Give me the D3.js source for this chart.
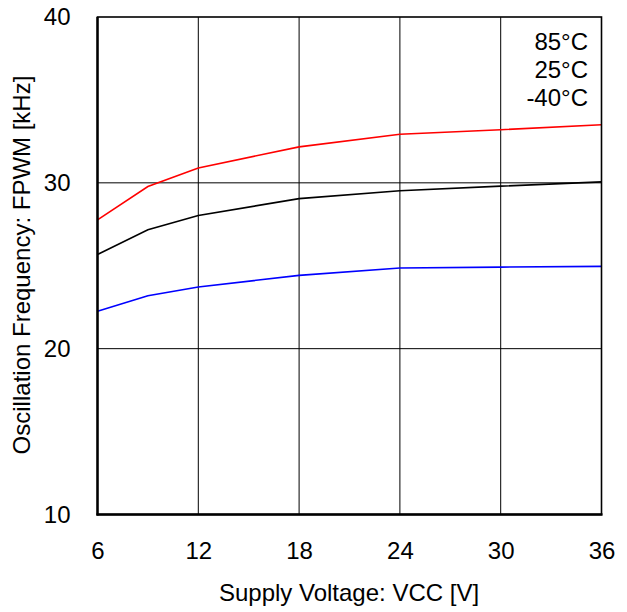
<!DOCTYPE html>
<html><head><meta charset="utf-8">
<script src="https://cdn.jsdelivr.net/npm/d3@7"></script>
<style>body{margin:0;background:#fff}text{font-family:"Liberation Sans",Arial,sans-serif;fill:#000}</style>
</head><body><svg id="c" width="627" height="612"></svg>
<script>
const voltages = [6, 9, 12, 18, 24, 30, 36];
const freq85 = [27.77, 29.78, 30.9, 32.17, 32.93, 33.2, 33.5];
const freq25 = [25.68, 27.17, 28.03, 29.05, 29.52, 29.8, 30.06];
const freqM40 = [22.25, 23.19, 23.72, 24.42, 24.86, 24.92, 24.96];
const xTicks = [6, 12, 18, 24, 30, 36];
const yTicks = [10, 20, 30, 40];
const seriesNames = ["85°C", "25°C", "-40°C"];
const seriesColors = ["#ff0000", "#000000", "#0000ff"];

const FS = 24;
const svg = d3.select("#c");
const L = 97.5, R = 601.5, T = 17, B = 514.5;
const x = d3.scaleLinear().domain([6, 36]).range([L, R]);
const y = d3.scaleLinear().domain([10, 40]).range([B, T]);

// grid
svg.append("g").selectAll("line").data(xTicks.slice(1, -1)).join("line")
  .attr("x1", d => x(d)).attr("x2", d => x(d)).attr("y1", T).attr("y2", B)
  .attr("stroke", "#000").attr("stroke-width", 1);
svg.append("g").selectAll("line").data(yTicks.slice(1, -1)).join("line")
  .attr("x1", L).attr("x2", R).attr("y1", d => y(d)).attr("y2", d => y(d))
  .attr("stroke", "#000").attr("stroke-width", 1);

// series
const line = d3.line().x((d, i) => x(voltages[i])).y(d => y(d));
[freq85, freq25, freqM40].forEach((s, k) => {
  svg.append("path").datum(s).attr("d", line).attr("fill", "none")
    .attr("stroke", seriesColors[k]).attr("stroke-width", 1.6);
});

// frame
svg.append("rect").attr("x", L).attr("y", T).attr("width", R - L).attr("height", B - T)
  .attr("fill", "none").attr("stroke", "#000").attr("stroke-width", 1.6);
svg.append("line").attr("x1", L).attr("x2", L).attr("y1", T).attr("y2", B + 1).attr("stroke", "#000").attr("stroke-width", 2.4);
svg.append("line").attr("x1", L - 1).attr("x2", R + 1).attr("y1", B).attr("y2", B).attr("stroke", "#000").attr("stroke-width", 2.4);

// axes via d3
const xAxis = svg.append("g").attr("transform", `translate(0,${B})`)
  .call(d3.axisBottom(x).tickValues(xTicks).tickSize(0).tickPadding(27.5));
const yAxis = svg.append("g").attr("transform", `translate(${L},0)`)
  .call(d3.axisLeft(y).tickValues(yTicks).tickSize(0).tickPadding(27));
[xAxis, yAxis].forEach(g => {
  g.select(".domain").remove();
  g.selectAll("text").attr("font-size", FS).attr("font-family", '"Liberation Sans",Arial,sans-serif').attr("fill", "#000");
});

// axis titles
svg.append("text").attr("x", 349).attr("y", 601).attr("text-anchor", "middle")
  .attr("font-size", FS).text("Supply Voltage: VCC [V]");
svg.append("text").attr("transform", "translate(30,265) rotate(-90)").attr("text-anchor", "middle")
  .attr("font-size", FS).text("Oscillation Frequency: FPWM [kHz]");

// legend
svg.append("g").selectAll("text").data(seriesNames).join("text")
  .attr("x", 588).attr("y", (d, i) => 49.5 + i * 28.3).attr("text-anchor", "end")
  .attr("font-size", FS).text(d => d);
</script></body></html>
